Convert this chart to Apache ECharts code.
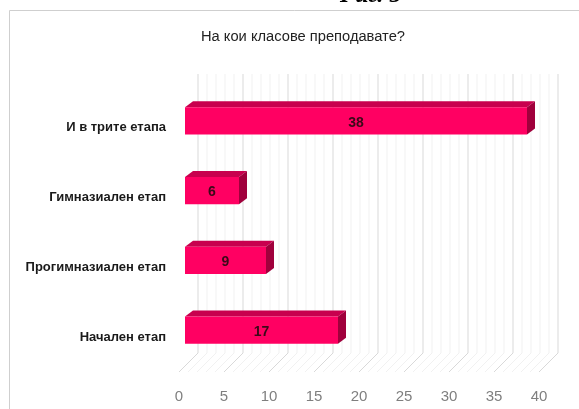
<!DOCTYPE html>
<html>
<head>
<meta charset="utf-8">
<script src="https://cdn.jsdelivr.net/npm/echarts@6/dist/echarts.min.js"></script>
<style>
  html, body { margin: 0; padding: 0; background: #ffffff; }
  #chart { width: 579px; height: 409px; }
</style>
</head>
<body>
<div id="chart"></div>
<script>
// Survey answers: which school stages the respondents teach
const categories = ['Начален етап', 'Прогимназиален етап', 'Гимназиален етап', 'И в трите етапа'];
const counts = [17, 9, 6, 38];
const xTicks = [0, 5, 10, 15, 20, 25, 30, 35, 40];
const chartTitle = 'На кои класове преподавате?';
const figureCaption = 'Фиг. 5';

// Oblique projection offsets used to fake the 3‑D look
const DEPTH = [19, -19];        // front plane -> back wall
const BAR_FRONT = [6, -7];      // front plane -> front face of the bars
const BAR_DEPTH = [8, -6];      // front face -> back face of the bars
const MINOR_STEPS = 5;

const chart = echarts.init(document.getElementById('chart'), null, { renderer: 'canvas' });

function wallItem(params, api) {
  const cs = params.coordSys;
  const v = api.value(0);
  const children = [];
  const floorY = cs.y + cs.height;
  const addLines = (val, color) => {
    const x = api.coord([val, 0])[0];
    // vertical line on the back wall
    children.push({
      type: 'line',
      shape: { x1: x + DEPTH[0], y1: cs.y + DEPTH[1], x2: x + DEPTH[0], y2: floorY + DEPTH[1] },
      style: { stroke: color, lineWidth: 1 }
    });
    // diagonal line across the floor
    children.push({
      type: 'line',
      shape: { x1: x, y1: floorY, x2: x + DEPTH[0], y2: floorY + DEPTH[1] },
      style: { stroke: color, lineWidth: 1 }
    });
  };
  const idx = params.dataIndex;
  if (idx < xTicks.length - 1) {
    const next = xTicks[idx + 1];
    for (let k = 1; k < MINOR_STEPS; k++) {
      addLines(v + (next - v) * k / MINOR_STEPS, '#f1f1f1');
    }
  }
  addLines(v, '#d9d9d9');
  return { type: 'group', children };
}

function barItem(params, api) {
  const v = api.value(0);
  const c = api.value(1);
  const start = api.coord([0, c]);
  const end = api.coord([v, c]);
  const band = api.size([0, 1])[1];
  const h = band * 0.39;
  const x0 = start[0] + BAR_FRONT[0];
  const x1 = end[0] + BAR_FRONT[0];
  const yc = start[1] + BAR_FRONT[1];
  const y0 = yc - h / 2;
  const y1 = yc + h / 2;
  const dx = BAR_DEPTH[0], dy = BAR_DEPTH[1];
  return {
    type: 'group',
    children: [
      {
        type: 'polygon',
        shape: { points: [[x0, y0], [x1, y0], [x1 + dx, y0 + dy], [x0 + dx, y0 + dy]] },
        style: { fill: '#c8004e' }
      },
      {
        type: 'polygon',
        shape: { points: [[x1, y0], [x1 + dx, y0 + dy], [x1 + dx, y1 + dy], [x1, y1]] },
        style: { fill: '#a0003c' }
      },
      {
        type: 'rect',
        shape: { x: x0, y: y0, width: x1 - x0, height: h },
        style: { fill: '#ff0062' }
      },
      {
        type: 'text',
        x: (x0 + x1) / 2,
        y: yc + 2,
        style: {
          text: String(v),
          fill: '#3a0a18',
          font: 'bold 14px "Liberation Sans", sans-serif',
          align: 'center',
          verticalAlign: 'middle'
        }
      }
    ]
  };
}

const option = {
  backgroundColor: '#ffffff',
  animation: false,
  grid: { left: 179, right: 40, top: 93, bottom: 37, containLabel: false },
  xAxis: {
    type: 'value',
    min: 0,
    max: 40,
    interval: 5,
    axisLine: { show: false },
    axisTick: { show: false },
    splitLine: { show: false },
    axisLabel: {
      margin: 17,
      color: '#7f7f7f',
      fontSize: 15,
      fontFamily: '"Liberation Sans", sans-serif'
    }
  },
  yAxis: {
    type: 'category',
    data: categories,
    axisLine: { show: false },
    axisTick: { show: false },
    splitLine: { show: false },
    axisLabel: {
      margin: 13,
      color: '#1a1a1a',
      fontSize: 13,
      fontWeight: 'bold',
      fontFamily: '"Liberation Sans", sans-serif'
    }
  },
  graphic: [
    {
      type: 'rect',
      shape: { x: 9.5, y: 10.5, width: 600, height: 420 },
      style: { fill: 'none', stroke: '#cfcfcf', lineWidth: 1 },
      z: 0
    },
    {
      type: 'text',
      x: 303,
      y: 37,
      style: {
        text: chartTitle,
        fill: '#222222',
        font: '14.7px "Liberation Sans", sans-serif',
        align: 'center',
        verticalAlign: 'middle'
      }
    },
    {
      type: 'text',
      x: 368,
      y: -4,
      style: {
        text: figureCaption,
        fill: '#000000',
        font: 'italic bold 24px "Liberation Serif", serif',
        align: 'center',
        verticalAlign: 'middle'
      }
    }
  ],
  series: [
    {
      type: 'custom',
      name: 'wall',
      silent: true,
      z: 1,
      renderItem: wallItem,
      encode: { x: 0, y: 1 },
      data: xTicks.map(t => [t, 0])
    },
    {
      type: 'custom',
      name: 'Отговори',
      z: 3,
      renderItem: barItem,
      encode: { x: 0, y: 1 },
      data: counts.map((n, i) => [n, i])
    }
  ]
};

chart.setOption(option);
</script>
</body>
</html>
